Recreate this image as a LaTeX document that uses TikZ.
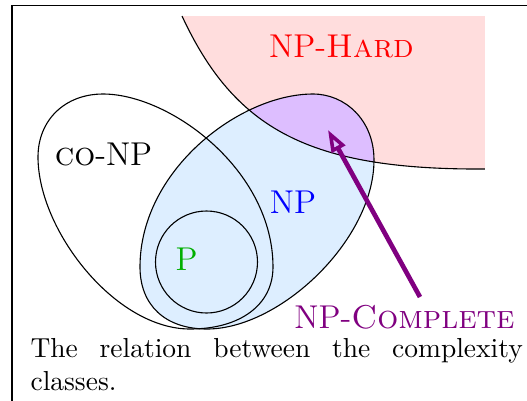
\documentclass[tikz,border=0pt]{standalone}
\usetikzlibrary{arrows.meta}
\definecolor{hardfill}{RGB}{255,221,221}
\definecolor{npfill}{RGB}{221,238,255}
\definecolor{npcfill}{RGB}{221,190,255}
\definecolor{npcol}{RGB}{128,0,128}
\definecolor{pgreen}{RGB}{0,175,0}
\def\npshape{(313,94) .. controls (345,94) and (374,120) .. (374,160)
  .. controls (374,240) and (280,329) .. (207,329)
  .. controls (165,329) and (140,305) .. (140,267)
  .. controls (140,170) and (240,94) .. (313,94) -- cycle}
\def\conpshape{(103,94) .. controls (65,94) and (38,120) .. (38,157)
  .. controls (38,230) and (115,329) .. (190,329)
  .. controls (240,329) and (273,305) .. (273,267)
  .. controls (273,170) and (170,94) .. (103,94) -- cycle}
\def\hardshape{(182,16) .. controls (235,130) and (310,170) .. (485,169) -- (485,16) -- cycle}
\begin{document}
\begin{tikzpicture}[x=0.36364pt,y=-0.36364pt,
  outline/.style={draw=black, line width=0.4pt},
  classlabel/.style={font=\large, inner sep=0pt, anchor=base}]
\useasboundingbox (0,0) rectangle (527,400);
\clip (0,0) rectangle (527,400);
% frame
\draw[line width=0.4pt] (12,410) -- (12,5.5) -- (540,5.5);
\begin{scope}
  \clip (0,0) rectangle (527,329);
  % NP-hard region
  \fill[hardfill] \hardshape;
  % NP fill
  \fill[npfill] \npshape;
  % NP-complete
  \begin{scope}
    \clip \hardshape;
    \fill[npcfill] \npshape;
  \end{scope}
  \draw[outline] (182,16) .. controls (235,130) and (310,170) .. (485,169);
  \draw[outline] \npshape;
  \draw[outline] \conpshape;
  \draw[outline] (206.5,262) circle (51);
\end{scope}
% labels
\node[classlabel, text=red] (hard) at (341.5,57) {NP-\textsc{Hard}};
\node[classlabel, text=black] (conp) at (103.5,165) {\textsc{co}-NP};
\node[classlabel, text=blue] (np) at (293,213) {NP};
\node[classlabel, text=pgreen] (p) at (186.5,270) {P};
\node[classlabel, text=npcol] (npc) at (404.5,328) {NP-\textsc{Complete}};
\coordinate (arrowstart) at (420,297);
\coordinate (arrowtip) at (328,130);
\draw[npcol, line width=1.7pt, -{Triangle[open, length=8pt, width=5.5pt, line width=1.3pt]}] (arrowstart) -- (arrowtip);
% caption
\node[anchor=base west, inner sep=0pt, text width=179pt, align=justify] (cap) at (30,357)
  {The relation between the complexity classes.};
\end{tikzpicture}
\end{document}
